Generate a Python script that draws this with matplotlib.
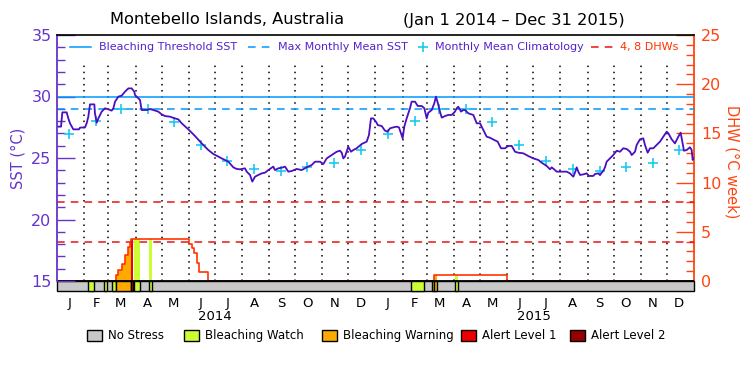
import numpy as np
import matplotlib
matplotlib.use('Agg')
import matplotlib.pyplot as plt
import matplotlib.transforms as mtransforms
from matplotlib.patches import Rectangle

plt.rcParams['font.family'] = ['DejaVu Sans']

# x in days since Jan 1 2014
sst_day = [0, 4.6, 6.1, 11.1, 13, 14.9, 18.7, 25.2, 26.4, 32.1, 34, 35.9, 37.8, 42.8, 43.5, 45.5,
           47.4, 51.2, 55, 58.8, 62.6, 64.6, 66.5, 70.3, 74.1, 77.9, 81.8, 85.6, 88.6, 89.4, 95.1,
           97, 102.8, 106.6, 110.4, 116.1, 119.9, 123.8, 129.5, 135.2, 139.1, 142.9, 150.5, 158.1,
           165.8, 173.4, 179.1, 184.9, 188.7, 196.4, 202.1, 205.9, 209.7, 215.4, 217.4, 221.2,
           223.8, 226.9, 230.7, 234.6, 238.4, 242.2, 247.9, 249.8, 253.6, 257.5, 261.3, 265.1,
           268.9, 274.6, 280.4, 286.1, 291.9, 295.7, 301.4, 305.2, 309.1, 314.8, 320.5, 324.3,
           326.3, 328.1, 330, 333.8, 336.9, 339.6, 343.4, 349.2, 354.9, 357.5, 359.8, 362.5,
           366.3, 367.5, 372.1, 375.9, 378.9, 381.6, 385.4, 389.3, 391.9, 394.2, 396.1, 398,
           400.7, 404.5, 406.4, 410.3, 413.4, 418, 421, 423.7, 425.5, 429.4, 432.4, 434.3, 436.3,
           438.9, 440.9, 444.6, 448.4, 452.3, 456.1, 458, 459.9, 463, 465.6, 467.6, 471.4, 477.1,
           481, 484.8, 488.6, 492.4, 496.2, 501.2, 505, 508.8, 513.4, 517.2, 521.1, 524.9, 528.7,
           534.4, 540.1, 545.8, 551.6, 555.4, 561.2, 565, 566.9, 570.7, 572.6, 584.1, 587.9,
           591.7, 593.6, 595.6, 597.4, 599.4, 603.2, 607, 609.7, 614.6, 616.6, 620.3, 622.3,
           626.1, 628, 629.9, 633.7, 637.5, 641.4, 645.2, 649, 652.9, 656.7, 658.6, 662.4, 664.3,
           668.1, 671.9, 673.8, 676.9, 679.6, 683.4, 687.2, 691, 694.8, 698.7, 700.6, 704.4,
           708.2, 712, 714.7, 716.6, 718.5, 721.6, 725.4, 727.3, 728.5, 729]
sst_val = [27.55, 27.55, 28.71, 28.71, 28.22, 27.82, 27.33, 27.33, 27.47, 27.49, 27.82, 28.36,
           29.36, 29.36, 28.63, 27.87, 28.22, 28.77, 29.04, 28.96, 28.85, 29.04, 29.58, 29.99,
           30.07, 30.39, 30.66, 30.66, 30.39, 30.12, 29.72, 28.90, 28.90, 28.98, 28.90, 28.77,
           28.55, 28.41, 28.36, 28.22, 28.14, 27.82, 27.33, 26.79, 26.19, 25.65, 25.33, 25.11,
           24.97, 24.70, 24.24, 24.11, 24.08, 24.16, 23.89, 23.62, 23.08, 23.48, 23.62, 23.75,
           23.81, 24.02, 24.30, 24.02, 24.16, 24.21, 24.30, 23.89, 23.94, 24.11, 24.02, 24.24,
           24.43, 24.70, 24.70, 24.51, 24.97, 25.24, 25.51, 25.59, 25.43, 24.97, 25.11, 25.92,
           25.51, 25.65, 25.79, 26.14, 26.33, 26.87, 28.22, 28.22, 27.87, 27.68, 27.60, 27.22,
           27.14, 27.41, 27.49, 27.55, 27.49, 27.01, 26.60, 27.55, 28.22, 29.04, 29.58, 29.58,
           29.23, 29.23, 29.04, 28.22, 28.68, 28.90, 29.45, 29.99, 29.50, 28.77, 28.28, 28.41,
           28.50, 28.50, 28.77, 29.04, 29.17, 28.77, 28.90, 28.90, 28.63, 28.50, 27.82, 27.82,
           27.28, 26.73, 26.65, 26.46, 26.33, 25.79, 25.79, 25.98, 25.98, 25.51, 25.43, 25.38,
           25.16, 24.97, 24.84, 24.62, 24.35, 24.08, 24.24, 24.02, 23.89, 23.89, 23.75, 23.48,
           23.81, 24.24, 23.89, 23.62, 23.67, 23.75, 23.54, 23.54, 23.70, 23.75, 23.62, 23.97,
           24.24, 24.70, 24.97, 25.24, 25.59, 25.51, 25.79, 25.73, 25.51, 25.24, 25.51, 26.06,
           26.52, 26.60, 26.06, 25.43, 25.79, 25.79, 26.06, 26.33, 26.73, 27.14, 27.01, 26.52,
           26.19, 26.73, 27.06, 26.33, 25.59, 25.65, 25.87, 25.65, 24.84, 24.97]

# monthly mean climatology, Jan..Dec
clim_val = [26.93, 28.03, 28.96, 28.96, 27.90, 26.08, 24.78, 24.08, 23.94, 24.24, 24.57, 25.65]
mmm = 29.0
threshold = 30.0
dhw_levels = [4, 8]

# degree heating weeks, step values starting at each day
dhw_day = [0, 67.6, 70.3, 74.1, 77.9, 81.0, 83.7, 84.8, 151.3, 154.3, 157.0, 160.1, 163.1, 173.4,
           432.4, 516.0, 730]
dhw_val = [0, 0.61, 1.12, 1.69, 2.64, 3.49, 3.83, 4.27, 3.76, 3.32, 2.88, 1.80, 0.95, 0,
           0.6, 0, 0]

# stress periods: 1 watch, 2 warning, 3 alert level 1
status_start = [35.9, 54.2, 63.6, 67.6, 84.8, 88.0, 105.4, 405.3, 429.4, 432.4, 456.1]
status_end = [42.7, 57.0, 67.6, 84.8, 87.6, 95.1, 109.3, 420.9, 432.4, 435.8, 459.9]
status_level = [1, 1, 1, 2, 3, 1, 1, 1, 1, 2, 1]

status_names = ['No Stress', 'Bleaching Watch', 'Bleaching Warning', 'Alert Level 1', 'Alert Level 2']
status_colors = ['#c8c8c8', '#ccff33', '#ffaa00', '#ee0000', '#960000']
month_letters = list('JFMAMJJASOND') * 2
years = ['2014', '2015']

purple = '#6633cc'
orange = '#ff4411'

months = np.arange('2014-01', '2016-01', dtype='datetime64[M]')
month_start = (months.astype('datetime64[D]') - np.datetime64('2014-01-01')).astype(float)
month_mid = month_start + 14

fig = plt.figure(figsize=(7.5, 3.75), dpi=100)
ax = fig.add_axes([57/750, 84/375, 637/750, 256/375])
ax2 = ax.twinx()
ax.set_zorder(ax2.get_zorder() + 1)
ax.patch.set_visible(False)

band_bot = -25 * 10 / 246.0
ax.set_xlim(0, 730)
ax.set_ylim(15 + band_bot * 20 / 25, 35)
ax2.set_ylim(band_bot, 25)

# month separators (stop below the legend row)
ax2.vlines(month_start[1:], 0, 22, colors='black', linestyles=(0, (1, 3)), lw=1.1, zorder=1)

def dhw_at(d):
    i = np.searchsorted(dhw_day, d, side='right') - 1
    return dhw_val[i]

# status band and filled DHW
ax2.add_patch(Rectangle((0, band_bot), 730, -band_bot, fc=status_colors[0], ec='black',
                        lw=1, zorder=4, clip_on=False))
for a, b, lev in zip(status_start, status_end, status_level):
    c = status_colors[lev]
    xs = [a] + [d for d in dhw_day if a < d < b] + [b]
    ys = [dhw_at(x) for x in xs]
    ax2.fill_between(xs, 0, ys, step='post', color=c, lw=0, zorder=2)
    ax2.add_patch(Rectangle((a, band_bot), b - a, -band_bot, fc=c, ec='black', lw=1, zorder=5,
                            clip_on=False))
ax2.step(dhw_day, dhw_val, where='post', color='#ff3300', lw=1.2, zorder=3)
ax2.axhline(0, color='black', lw=1.3, zorder=6)
for lv in dhw_levels:
    ax2.axhline(lv, color='#ee1111', lw=1.1, ls=(0, (5, 4)), zorder=3)

# SST
ax.axhline(threshold, color='#0099ff', lw=1.1)
ax.axhline(mmm, color='#0099ff', lw=1.1, ls=(0, (5, 4)))
ax.plot(month_mid, clim_val * 2, ls='none', marker='+', ms=7, mew=1.2, color='#1ec8f0')
ax.plot(sst_day, sst_val, color='#4a0fc0', lw=1.3)

# axes styling
for s in ['right', 'bottom']:
    ax.spines[s].set_visible(False)
for s in ['left', 'top', 'bottom']:
    ax2.spines[s].set_visible(False)
ax.spines['left'].set_color(purple)
ax.spines['left'].set_linewidth(1.3)
ax.spines['left'].set_bounds(15, 35)
ax.spines['top'].set_linewidth(1.2)
ax2.spines['right'].set_color(orange)
ax2.spines['right'].set_linewidth(1.3)
ax2.spines['right'].set_bounds(0, 25)

ax.set_yticks([15, 20, 25, 30, 35])
ax.set_yticks(np.arange(16, 35), minor=True)
ax.tick_params(axis='y', which='major', direction='in', length=13, width=1, colors=purple,
               labelsize=11.5, pad=4)
ax.tick_params(axis='y', which='minor', direction='in', length=6, width=1, colors=purple)
ax2.set_yticks([0, 5, 10, 15, 20, 25])
ax2.set_yticks(np.arange(1, 25), minor=True)
ax2.tick_params(axis='y', which='major', direction='in', length=13, width=1, colors=orange,
                labelsize=11.5, pad=5)
ax2.tick_params(axis='y', which='minor', direction='in', length=6, width=1, colors=orange)

ax.set_xticks(month_mid, month_letters)
ax.tick_params(axis='x', length=0, labelsize=9.5, pad=4)
trans = mtransforms.blended_transform_factory(ax.transData, ax.transAxes)
for i, y in enumerate(years):
    ax.text(month_start[6 + 12 * i], -0.098, y, transform=trans, ha='center', va='center',
            fontsize=9.5)

# legend inside the top of the plot
ly = 0.953
ax.plot([0.0204, 0.0534], [ly, ly], color='#0099ff', lw=1.1, transform=ax.transAxes)
ax.text(0.0659, ly, 'Bleaching Threshold SST', color='#5522cc', fontsize=8,
        transform=ax.transAxes, va='center')
ax.plot([0.2998, 0.3375], [ly, ly], color='#0099ff', lw=1.1, ls=(0, (5, 4)),
        transform=ax.transAxes)
ax.text(0.347, ly, 'Max Monthly Mean SST', color='#5522cc', fontsize=8,
        transform=ax.transAxes, va='center')
ax.plot([0.5746], [ly], marker='+', ms=7, mew=1.2, color='#1ec8f0', transform=ax.transAxes)
ax.text(0.5934, ly, 'Monthly Mean Climatology', color='#5522cc', fontsize=8,
        transform=ax.transAxes, va='center')
ax.plot([0.8383, 0.8744], [ly, ly], color='#ee1111', lw=1.1, ls=(0, (5, 4)),
        transform=ax.transAxes)
ax.text(0.8838, ly, '4, 8 DHWs', color='#ff3300', fontsize=8, transform=ax.transAxes,
        va='center')

# titles and axis labels
fig.text(227/750, 1 - 20/375, 'Montebello Islands, Australia', ha='center', va='center',
         fontsize=11.7)
fig.text(514/750, 1 - 20/375, '(Jan 1 2014 \u2013 Dec 31 2015)', ha='center', va='center',
         fontsize=11.7)
fig.text(18/750, 1 - 158/375, 'SST (\u00b0C)', rotation=90, ha='center', va='center',
         color=purple, fontsize=10.5)
fig.text(732/750, 1 - 162/375, 'DHW (\u00b0C week)', rotation=270, ha='center', va='center',
         color=orange, fontsize=10.5)

# status legend
box_x = [87, 184, 322, 461, 570]
for x, name, c in zip(box_x, status_names, status_colors):
    fig.patches.append(Rectangle((x/750, 1 - 341/375), 15/750, 11/375, fc=c, ec='black', lw=1,
                                 transform=fig.transFigure, figure=fig))
    fig.text((x + 21)/750, 1 - 335.5/375, name, ha='left', va='center', fontsize=8.5)

fig.savefig('out.png', dpi=100)
